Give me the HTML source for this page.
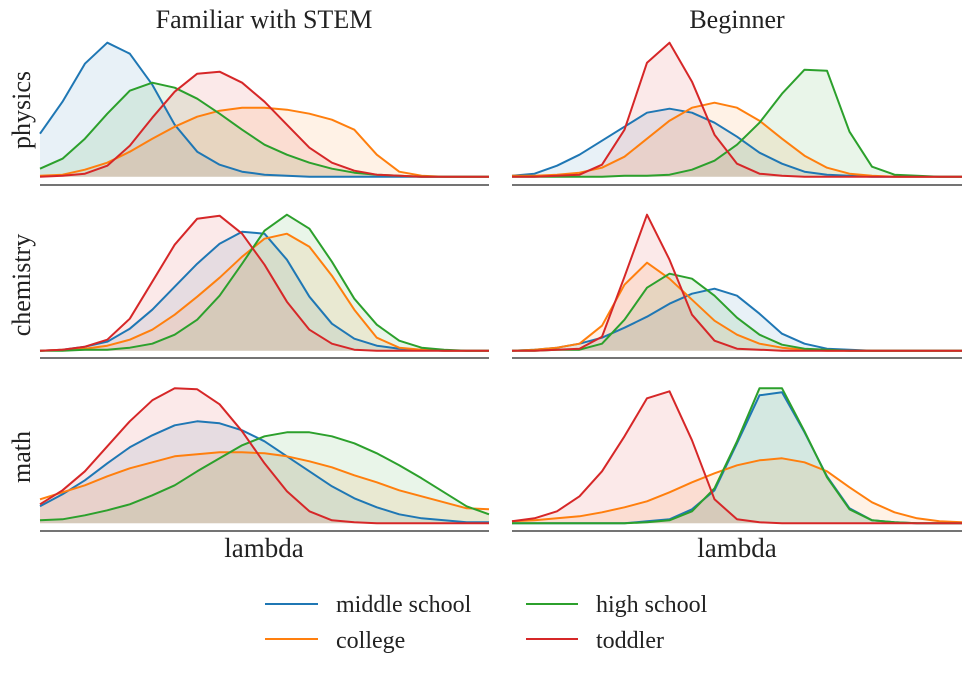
<!DOCTYPE html>
<html><head><meta charset="utf-8"><style>
body{margin:0;background:#fff;}
svg text{font-family:"Liberation Serif","DejaVu Serif",serif;fill:#222;}
</style></head><body>
<svg id="chart" width="971" height="673" xmlns="http://www.w3.org/2000/svg">
<text x="264" y="28" font-size="26" text-anchor="middle">Familiar with STEM</text>
<text x="737" y="28" font-size="26" text-anchor="middle">Beginner</text>
<text transform="translate(30,110) rotate(-90)" font-size="26" text-anchor="middle">physics</text>
<text transform="translate(30,285) rotate(-90)" font-size="26" text-anchor="middle">chemistry</text>
<text transform="translate(30,457) rotate(-90)" font-size="26" text-anchor="middle">math</text>
<text x="264" y="557" font-size="27" text-anchor="middle">lambda</text>
<text x="737" y="557" font-size="27" text-anchor="middle">lambda</text>
<g>
<line x1="265" y1="604" x2="318" y2="604" stroke="#1f77b4" stroke-width="2"/>
<text x="336" y="612" font-size="24">middle school</text>
<line x1="526" y1="604" x2="578" y2="604" stroke="#2ca02c" stroke-width="2"/>
<text x="596" y="612" font-size="24">high school</text>
<line x1="265" y1="639" x2="318" y2="639" stroke="#ff7f0e" stroke-width="2"/>
<text x="336" y="648" font-size="24">college</text>
<line x1="526" y1="639" x2="578" y2="639" stroke="#d62728" stroke-width="2"/>
<text x="596" y="648" font-size="24">toddler</text>
</g>
<g id="panels"></g>
</svg>
<script>
const seriesNames = ["middle school","college","high school","toddler"];
const seriesColors = ["#1f77b4","#ff7f0e","#2ca02c","#d62728"];
// density values (21 points per series, lambda grid)
const physicsStemMiddle = [43,75,113,134,123,92,52,25,12,5,2,1,0,0,0,0,0,0,0,0,0];
const physicsStemCollege = [1,2,7,14,25,38,50,60,66,69,69,67,63,57,47,22,5,1,0,0,0];
const physicsStemHigh = [8,18,38,63,86,94,89,78,63,47,32,22,14,8,4,2,1,0,0,0,0];
const physicsStemToddler = [0,1,3,11,31,59,85,103,105,94,75,52,29,14,6,2,1,0,0,0,0];
const physicsBegMiddle = [1,3,11,22,36,50,64,68,64,54,40,24,13,5,2,1,0,0,0,0,0];
const physicsBegCollege = [1,1,2,4,9,20,38,56,69,74,69,56,38,21,9,3,1,0,0,0,0];
const physicsBegHigh = [0,0,0,0,0,1,1,2,7,16,32,54,83,107,106,45,10,2,1,0,0];
const physicsBegToddler = [0,0,1,2,12,47,114,134,95,42,13,3,1,0,0,0,0,0,0,0,0];
const chemStemMiddle = [0,1,4,9,22,41,64,87,107,119,117,91,54,27,12,5,2,1,0,0,0];
const chemStemCollege = [0,1,2,5,11,21,36,54,73,94,112,117,104,75,41,13,3,1,0,0,0];
const chemStemHigh = [0,0,1,1,3,7,16,31,55,87,120,136,122,89,52,26,10,3,1,0,0];
const chemStemToddler = [0,1,4,11,32,69,106,132,135,117,86,49,21,7,1,0,0,0,0,0,0];
const chemBegMiddle = [0,1,3,7,13,23,34,47,57,62,55,37,17,7,2,1,0,0,0,0,0];
const chemBegCollege = [0,1,3,7,25,66,88,72,51,30,16,7,3,1,0,0,0,0,0,0,0];
const chemBegHigh = [0,0,1,1,7,31,63,77,72,55,33,16,6,2,1,0,0,0,0,0,0];
const chemBegToddler = [0,0,1,2,14,74,136,91,36,10,2,1,0,0,0,0,0,0,0,0,0];
const mathStemMiddle = [17,29,43,60,76,88,98,102,100,93,82,67,52,37,25,16,9,5,3,1,1];
const mathStemCollege = [24,31,38,47,55,61,67,69,71,71,70,67,62,56,48,41,33,27,21,15,14];
const mathStemHigh = [3,4,8,13,19,28,38,52,65,78,87,91,91,87,80,70,58,45,31,17,9];
const mathStemToddler = [19,33,52,77,102,123,135,134,119,92,60,32,12,3,1,0,0,0,0,0,0];
const mathBegMiddle = [0,0,0,0,0,0,2,4,14,33,80,128,131,91,47,15,3,1,0,0,0];
const mathBegCollege = [2,3,5,7,11,16,22,31,41,50,58,63,65,61,52,36,21,11,5,2,1];
const mathBegHigh = [0,0,0,0,0,0,1,3,12,35,82,135,135,92,46,14,3,1,0,0,0];
const mathBegToddler = [2,5,12,27,52,87,125,132,83,24,4,1,0,0,0,0,0,0,0,0,0];

const panels = [
 {name:"physics-familiar", col:0,row:0, data:[physicsStemMiddle,physicsStemCollege,physicsStemHigh,physicsStemToddler]},
 {name:"physics-beginner", col:1,row:0, data:[physicsBegMiddle,physicsBegCollege,physicsBegHigh,physicsBegToddler]},
 {name:"chemistry-familiar", col:0,row:1, data:[chemStemMiddle,chemStemCollege,chemStemHigh,chemStemToddler]},
 {name:"chemistry-beginner", col:1,row:1, data:[chemBegMiddle,chemBegCollege,chemBegHigh,chemBegToddler]},
 {name:"math-familiar", col:0,row:2, data:[mathStemMiddle,mathStemCollege,mathStemHigh,mathStemToddler]},
 {name:"math-beginner", col:1,row:2, data:[mathBegMiddle,mathBegCollege,mathBegHigh,mathBegToddler]}
];
const NS="http://www.w3.org/2000/svg";
const colX=[[40,489],[512,962]];
const rowBase=[176.7,350.7,523.3];
const rowAxis=[185,358,531];
const g=document.getElementById("panels");
function xScale(col,i,n){const [a,b]=colX[col];return a+(b-a)*i/(n-1);}
function yScale(row,v){return rowBase[row]-v;}
const drawOrder=[0,1,2,3];
panels.forEach(p=>{
  const pg=document.createElementNS(NS,"g");
  
  
  g.appendChild(pg);
  drawOrder.forEach(s=>{
    const vals=p.data[s];const n=vals.length;
    const pts=vals.map((v,i)=>xScale(p.col,i,n).toFixed(1)+","+yScale(p.row,v).toFixed(1));
    const area=document.createElementNS(NS,"polygon");
    area.setAttribute("points",xScale(p.col,0,n)+","+rowBase[p.row]+" "+pts.join(" ")+" "+xScale(p.col,n-1,n)+","+rowBase[p.row]);
    area.setAttribute("fill",seriesColors[s]);area.setAttribute("fill-opacity","0.1");
    
    
    pg.appendChild(area);
  });
  drawOrder.forEach(s=>{
    const vals=p.data[s];const n=vals.length;
    const pts=vals.map((v,i)=>xScale(p.col,i,n).toFixed(1)+","+yScale(p.row,v).toFixed(1));
    const line=document.createElementNS(NS,"polyline");
    line.setAttribute("points",pts.join(" "));
    line.setAttribute("fill","none");line.setAttribute("stroke",seriesColors[s]);
    line.setAttribute("stroke-width","2");line.setAttribute("stroke-linejoin","round");
    
    
    pg.appendChild(line);
  });
  const ax=document.createElementNS(NS,"line");
  ax.setAttribute("x1",colX[p.col][0]);ax.setAttribute("x2",colX[p.col][1]);
  ax.setAttribute("y1",rowAxis[p.row]);ax.setAttribute("y2",rowAxis[p.row]);
  ax.setAttribute("stroke","#222");ax.setAttribute("stroke-width","1.3");
  
  
  pg.appendChild(ax);
});
</script>
</body></html>
